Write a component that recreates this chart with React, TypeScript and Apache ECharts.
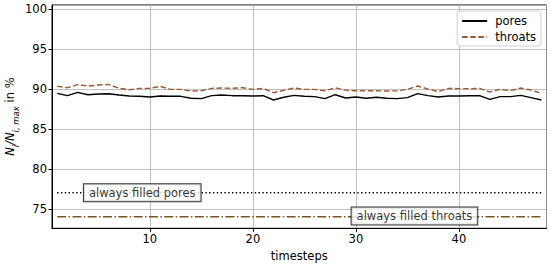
import React, { useEffect, useRef } from "react";
import * as echarts from "echarts";

const timesteps: number[] = Array.from({ length: 48 }, (_, i) => i + 1);

const pores: number[] = [
  89.47, 89.18, 89.6, 89.3, 89.39, 89.43, 89.26, 89.14, 89.1, 89.02,
  89.14, 89.1, 89.1, 88.85, 88.81, 89.18, 89.26, 89.18, 89.18, 89.14,
  89.18, 88.64, 88.98, 89.22, 89.1, 89.06, 88.81, 89.3, 88.89, 89.02,
  88.85, 88.98, 88.85, 88.81, 88.93, 89.43, 89.18, 89.02, 89.14, 89.14,
  89.18, 89.18, 88.72, 89.06, 89.06, 89.22, 88.93, 88.64,
];

const throats: number[] = [
  90.35, 90.18, 90.56, 90.39, 90.51, 90.6, 90.1, 89.93, 90.1, 90.1,
  90.35, 89.97, 89.97, 89.76, 89.8, 90.1, 90.14, 90.1, 90.18, 89.97,
  90.1, 89.55, 89.85, 90.14, 89.97, 89.97, 89.8, 90.18, 89.85, 89.8,
  89.8, 89.8, 89.76, 89.8, 89.97, 90.39, 90.01, 89.68, 90.1, 90.06,
  90.06, 90.1, 89.64, 89.97, 89.8, 90.14, 89.89, 89.47,
];

const alwaysFilledPores = 77;
const alwaysFilledThroats = 74;
const poresLabelPos: [number, number] = [9.26, 77.0];
const throatsLabelPos: [number, number] = [35.68, 74.1];

const FONT = "DejaVu Sans";
const BROWN = "#9a5a36";
const OLIVE = "#7a5620";

export default function App() {
  const ref = useRef<HTMLDivElement>(null);
  useEffect(() => {
    if (!ref.current) return;
    const chart = echarts.init(ref.current, undefined, { renderer: "svg" });
    const first = timesteps[0];
    const last = timesteps[timesteps.length - 1];
    const boxLabel = {
      show: true,
      position: "inside",
      color: "#000",
      fontFamily: FONT,
      fontSize: 11.5,
      backgroundColor: "#fff",
      borderColor: "#000",
      borderWidth: 1,
      padding: [3, 5, 2, 5],
    };
    chart.setOption({
      animation: false,
      textStyle: { fontFamily: FONT },
      grid: {
        left: 52,
        right: 3.5,
        top: 5,
        bottom: 38.7,
        show: true,
        borderColor: "#000",
        borderWidth: 1,
        backgroundColor: "transparent",
        containLabel: false,
        outerBoundsMode: "none",
      },
      legend: {
        right: 9,
        top: 11,
        orient: "vertical",
        backgroundColor: "#fff",
        borderColor: "#d0d0d0",
        borderWidth: 1,
        borderRadius: 3,
        padding: [4, 5, 3, 4],
        itemWidth: 25,
        itemHeight: 10,
        itemGap: 4,
        itemStyle: { color: "rgba(0,0,0,0)", borderColor: "rgba(0,0,0,0)", borderWidth: 0 },
        textStyle: { fontFamily: FONT, fontSize: 11.5, color: "#000", padding: [0, 0, 0, 3] },
        data: ["pores", "throats"],
      },
      xAxis: {
        type: "value",
        min: 0.5,
        max: 48.5,
        splitNumber: 5,
        name: "timesteps",
        nameLocation: "middle",
        nameGap: 22,
        nameMoveOverlap: false,
        nameTextStyle: { fontFamily: FONT, fontSize: 11.5, color: "#000" },
        axisLine: { show: true, lineStyle: { color: "#000", width: 1 } },
        axisTick: { show: true, length: 3.5, lineStyle: { color: "#000" } },
        axisLabel: {
          showMinLabel: false,
          showMaxLabel: false,
          color: "#000",
          fontFamily: FONT,
          fontSize: 11.5,
          margin: 5,
        },
        splitLine: { show: true, lineStyle: { color: "#b0b0b0", width: 0.8 } },
      },
      yAxis: {
        type: "value",
        min: 72.55,
        max: 100.55,
        splitNumber: 5,
        name: "{n|N}{s|i}{n|/N}{s|i, max}{r| in %}",
        nameLocation: "middle",
        nameRotate: 90,
        nameGap: 32,
        nameMoveOverlap: false,
        nameTextStyle: {
          fontFamily: FONT,
          fontSize: 11.5,
          color: "#000",
          rich: {
            n: { fontFamily: FONT, fontSize: 11.5, fontStyle: "italic", color: "#000", lineHeight: 16, verticalAlign: "top" },
            s: { fontFamily: FONT, fontSize: 8.5, fontStyle: "italic", color: "#000", lineHeight: 16, verticalAlign: "bottom", padding: [5, 0, 0, 0] },
            r: { fontFamily: FONT, fontSize: 11.5, color: "#000", lineHeight: 16, verticalAlign: "top" },
          },
        },
        axisLine: { show: true, lineStyle: { color: "#000", width: 1 } },
        axisTick: { show: true, length: 3.5, lineStyle: { color: "#000" } },
        axisLabel: {
          showMinLabel: false,
          showMaxLabel: false,
          color: "#000",
          fontFamily: FONT,
          fontSize: 11.5,
          margin: 5,
        },
        splitLine: { show: true, lineStyle: { color: "#b0b0b0", width: 0.8 } },
      },
      series: [
        {
          name: "pores",
          type: "line",
          data: timesteps.map((t, i) => [t, pores[i]]),
          symbol: "none",
          lineStyle: { color: "#000", width: 1.4 },
          itemStyle: { color: "#000" },
          z: 5,
        },
        {
          name: "throats",
          type: "line",
          data: timesteps.map((t, i) => [t, throats[i]]),
          symbol: "none",
          lineStyle: { color: BROWN, width: 1.4, type: [5.5, 2.6] },
          itemStyle: { color: BROWN },
          z: 5,
        },
        {
          name: "always filled pores",
          type: "line",
          data: [
            [first, alwaysFilledPores],
            [last, alwaysFilledPores],
          ],
          symbol: "none",
          lineStyle: { color: "#000", width: 1.4, type: [1.4, 2.4] },
          z: 3,
        },
        {
          name: "always filled throats",
          type: "line",
          data: [
            [first, alwaysFilledThroats],
            [last, alwaysFilledThroats],
          ],
          symbol: "none",
          lineStyle: { color: OLIVE, width: 1.4, type: [9, 2.4, 1.5, 2.4] },
          z: 3,
        },
        {
          name: "labels",
          type: "scatter",
          symbolSize: 0,
          data: [
            { value: poresLabelPos, label: { ...boxLabel, formatter: "always filled pores" } },
            { value: throatsLabelPos, label: { ...boxLabel, formatter: "always filled throats" } },
          ],
          z: 10,
          silent: true,
        },
      ],
    });
    return () => chart.dispose();
  }, []);
  return <div ref={ref} style={{ width: 550, height: 267, position: "absolute", left: 0, top: 0 }} />;
}
